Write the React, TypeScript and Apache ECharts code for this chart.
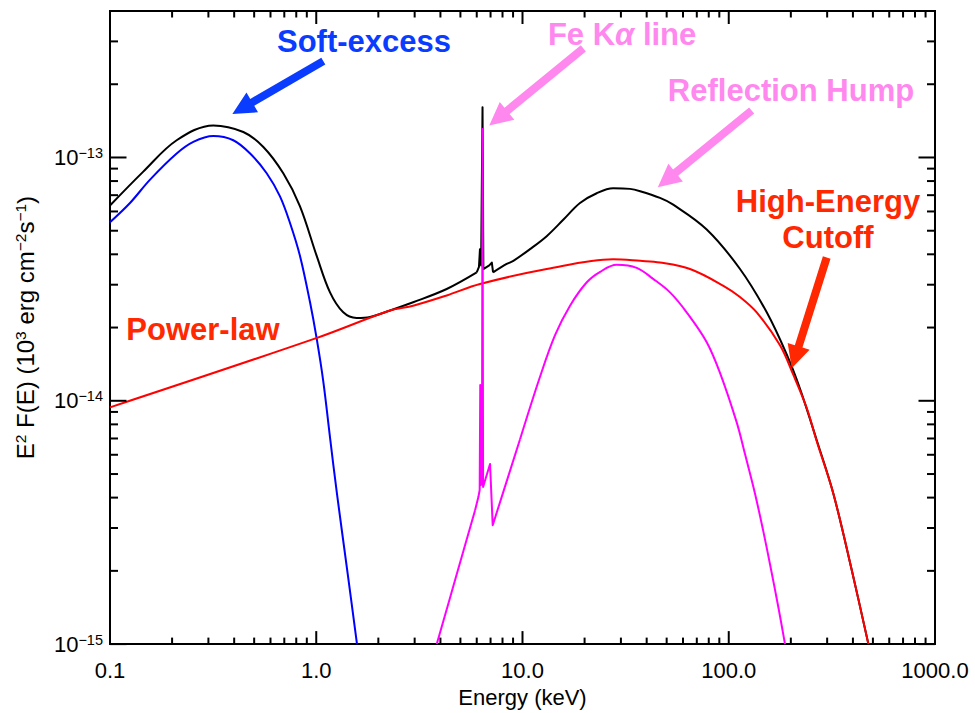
import React, { useEffect, useRef } from "react";
import * as echarts from "echarts";

// ---- axis ticks / labels ----
const xMajorTicks = [0.1, 1, 10, 100, 1000];
const xTickLabels = ["0.1", "1.0", "10.0", "100.0", "1000.0"];
const xMinorTicks = [
  0.2, 0.3, 0.4, 0.5, 0.6, 0.7, 0.8, 0.9,
  2, 3, 4, 5, 6, 7, 8, 9,
  20, 30, 40, 50, 60, 70, 80, 90,
  200, 300, 400, 500, 600, 700, 800, 900,
];
const yMajorTicks = [1e-15, 1e-14, 1e-13];
const yTickExponents = ["−15", "−14", "−13"];
const yMinorTicks = [
  2e-15, 3e-15, 4e-15, 5e-15, 6e-15, 7e-15, 8e-15, 9e-15,
  2e-14, 3e-14, 4e-14, 5e-14, 6e-14, 7e-14, 8e-14, 9e-14,
  2e-13, 3e-13,
];

// ---- series: [Energy keV, E^2 F(E)] ----
const totalModel: [number, number][] = [
  [0.1, 6.35e-14], [0.145, 8.75e-14], [0.2105, 1.177e-13], [0.317, 1.355e-13],
  [0.443, 1.273e-13], [0.554, 1.105e-13], [0.692, 8.61e-14], [0.834, 6.3e-14],
  [1.005, 3.94e-14], [1.166, 2.79e-14], [1.352, 2.31e-14], [1.57, 2.19e-14],
  [1.822, 2.21e-14], [2.28, 2.35e-14], [2.95, 2.54e-14], [4.29, 2.88e-14],
  [6.0, 3.37e-14], [6.15, 3.55e-14], [6.22, 4.2e-14], [6.3, 3.6e-14],
  [6.4, 1.609e-13], [6.46, 3.48e-14], [6.9, 3.6e-14], [7.1, 3.7e-14],
  [7.2, 3.37e-14], [8.38, 3.65e-14], [9.03, 3.76e-14], [10.87, 4.2e-14],
  [13.1, 4.75e-14], [15.8, 5.56e-14], [19.0, 6.5e-14], [22.9, 7.13e-14],
  [27.5, 7.47e-14], [33.2, 7.43e-14], [37.2, 7.27e-14], [46.4, 6.82e-14],
  [53.8, 6.4e-14], [78.2, 5.06e-14], [113.4, 3.48e-14], [152.8, 2.31e-14],
  [191, 1.55e-14], [221.6, 1.12e-14], [266.8, 6.9e-15], [321.6, 4.15e-15],
  [394.5, 2.02e-15], [475.5, 1.0e-15],
];
const softExcess: [number, number][] = [
  [0.1, 5.42e-14], [0.125, 6.5e-14], [0.156, 8.09e-14], [0.2105, 1.038e-13],
  [0.2535, 1.159e-13], [0.317, 1.225e-13], [0.396, 1.177e-13], [0.478, 1.038e-13],
  [0.575, 8.61e-14], [0.667, 6.92e-14], [0.746, 5.38e-14], [0.834, 3.94e-14],
  [0.933, 2.54e-14], [1.005, 1.8e-14], [1.082, 1.2e-14], [1.166, 7.08e-15],
  [1.26, 4.15e-15], [1.426, 1.9e-15], [1.576, 1.0e-15],
];
const powerLaw: [number, number][] = [
  [0.1, 9.4e-15], [1.0, 1.81e-14], [2.28, 2.35e-14], [2.95, 2.46e-14],
  [4.29, 2.71e-14], [6.22, 3.02e-14], [13.1, 3.48e-14], [27.5, 3.82e-14],
  [37.2, 3.76e-14], [46.4, 3.7e-14], [64.9, 3.48e-14], [94.2, 2.97e-14],
  [113.4, 2.67e-14], [136.6, 2.31e-14], [177.2, 1.69e-14], [205.5, 1.28e-14],
  [238.7, 9.35e-15], [266.8, 6.84e-15], [321.6, 4.15e-15], [394.5, 2.02e-15],
  [475.5, 1.0e-15],
];
const reflection: [number, number][] = [
  [3.84, 1.0e-15], [4.76, 1.89e-15], [5.89, 3.55e-15], [6.11, 4.02e-15],
  [6.2, 4.3e-15], [6.24, 1.16e-14], [6.28, 4.5e-15], [6.36, 4.6e-15],
  [6.4, 1.31e-13], [6.44, 4.42e-15], [6.96, 5.5e-15], [7.17, 3.08e-15],
  [9.73, 6.95e-15], [12.16, 1.255e-14], [14.38, 1.86e-14], [17.0, 2.46e-14],
  [20.5, 3.07e-14], [23.8, 3.39e-14], [28.6, 3.62e-14], [35.8, 3.52e-14],
  [43.0, 3.17e-14], [51.9, 2.79e-14], [62.5, 2.31e-14], [78.2, 1.742e-14],
  [90.7, 1.303e-14], [109.3, 8.15e-15], [119.9, 6.04e-15], [134.1, 4.15e-15],
  [147.2, 2.9e-15], [158.5, 2.13e-15], [173.9, 1.42e-15], [187.4, 1.0e-15],
];

// Energy range of the narrow Fe line / edge features (drawn without smoothing)
const LINE_REGION = [6.1, 7.2];

// ---- annotations (data coordinates) ----
const COL_BLUE_TXT = "#0a3cff";
const COL_PINK_TXT = "#ff88ee";
const COL_RED_TXT = "#ff2800";
const annotationTexts = [
  { text: "Soft-excess", at: [1.704, 2.99e-13], color: COL_BLUE_TXT },
  { text: "{n|Fe K}{a|α}{n| line}", at: [30.4, 3.19e-13], color: COL_PINK_TXT, rich: true },
  { text: "Reflection Hump", at: [200.4, 1.887e-13], color: COL_PINK_TXT },
  { text: "High-Energy", at: [302.8, 6.6e-14], color: COL_RED_TXT },
  { text: "Cutoff", at: [302.8, 4.71e-14], color: COL_RED_TXT },
  { text: "Power-law", at: [0.2825, 1.968e-14], color: COL_RED_TXT },
];
const arrows = [
  { from: [1.082, 2.49e-13], to: [0.392, 1.51e-13], color: COL_BLUE_TXT },
  { from: [19.72, 2.81e-13], to: [6.9, 1.355e-13], color: COL_PINK_TXT },
  { from: [129.1, 1.56e-13], to: [45.3, 7.55e-14], color: COL_PINK_TXT },
  { from: [298.5, 3.88e-14], to: [202, 1.36e-14], color: COL_RED_TXT },
];

const FONT = "'Liberation Sans', Arial, Helvetica, sans-serif";

export default function App() {
  const ref = useRef<HTMLDivElement>(null);

  useEffect(() => {
    document.body.style.margin = "0";
    document.body.style.overflow = "hidden";
    const chart = echarts.init(ref.current!, undefined, { renderer: "svg" });

    const tickData = [
      ...xMajorTicks.map((v) => [v, 1e-15, 0]),
      ...xMinorTicks.map((v) => [v, 1e-15, 1]),
      ...yMajorTicks.map((v) => [0.1, v, 2]),
      ...yMinorTicks.map((v) => [0.1, v, 3]),
    ];

    const lineSeries = (data: [number, number][], color: string, z: number, smooth: number | boolean) => ({
      type: "line",
      data,
      showSymbol: false,
      symbol: "none",
      smooth,
      lineStyle: { color, width: 2, join: "round" },
      z,
      animation: false,
    });

    // split a curve into smooth continuum parts and the sharp line region
    const segmented = (data: [number, number][], color: string, z: number) => {
      const lo = data.filter((d) => d[0] <= LINE_REGION[0]);
      const mid = data.filter((d) => d[0] >= LINE_REGION[0] && d[0] <= LINE_REGION[1]);
      const hi = data.filter((d) => d[0] >= LINE_REGION[1]);
      const midFull = [lo[lo.length - 1], ...mid, hi[0]].filter(Boolean) as [number, number][];
      return [
        lineSeries(lo, color, z, 0.35),
        lineSeries(midFull, color, z, false),
        lineSeries(hi, color, z, 0.35),
      ];
    };

    const option: any = {
      animation: false,
      textStyle: { fontFamily: FONT },
      grid: {
        left: 110, right: 40, top: 11, bottom: 61.3,
        show: true, borderColor: "#000", borderWidth: 2, backgroundColor: "transparent",
      },
      xAxis: {
        type: "log", logBase: 10, min: 0.1, max: 1000,
        axisLine: { show: true, lineStyle: { color: "#000", width: 2 } },
        axisTick: { show: false },
        splitLine: { show: false },
        axisLabel: {
          color: "#000", fontSize: 22, margin: 15, fontFamily: FONT,
          formatter: (v: number) => {
            const e = Math.round(Math.log10(v));
            if (Math.abs(Math.log10(v) - e) > 1e-6) return "";
            return xTickLabels[e + 1] ?? "";
          },
        },
        name: "Energy (keV)",
        nameLocation: "middle",
        nameGap: 40,
        nameTextStyle: { color: "#000", fontSize: 22, fontFamily: FONT },
      },
      yAxis: {
        type: "log", logBase: 10, min: 1e-15, max: 4e-13,
        axisLine: { show: true, lineStyle: { color: "#000", width: 2 } },
        axisTick: { show: false },
        splitLine: { show: false },
        axisLabel: {
          color: "#000", margin: 7, fontFamily: FONT,
          formatter: (v: number) => {
            const e = Math.round(Math.log10(v));
            if (Math.abs(Math.log10(v) - e) > 1e-6) return "";
            const idx = e + 15;
            if (idx < 0 || idx >= yTickExponents.length) return "";
            return `{b|10}{s|${yTickExponents[idx]}}`;
          },
          rich: {
            b: { fontSize: 22, lineHeight: 24, color: "#000", fontFamily: FONT },
            s: { fontSize: 14.5, lineHeight: 7, verticalAlign: "top", color: "#000", fontFamily: FONT },
          },
        },
        name: "{t|E}{u|2}{t| F(E) (10}{u|3}{t| erg cm}{u|−2}{t|s}{u|−1}{t|)}",
        nameLocation: "middle",
        nameGap: 72,
        nameRotate: 90,
        nameTextStyle: {
          color: "#000", fontFamily: FONT,
          rich: {
            t: { fontSize: 24, lineHeight: 26, color: "#000", fontFamily: FONT },
            u: { fontSize: 15.5, lineHeight: 8, verticalAlign: "top", color: "#000", fontFamily: FONT },
          },
        },
      },
      series: [
        ...segmented(totalModel, "#000000", 2),
        lineSeries(softExcess, "#0000ff", 3, 0.35),
        lineSeries(powerLaw, "#ff0000", 4, 0.35),
        ...segmented(reflection, "#ff00ff", 5),
        {
          type: "custom",
          data: tickData,
          encode: { x: 0, y: 1 },
          z: 10,
          silent: true,
          clip: false,
          renderItem: (params: any, api: any) => {
            const cs = params.coordSys;
            const kind = api.value(2);
            const p = api.coord([api.value(0), api.value(1)]);
            const style = { stroke: "#000", lineWidth: 2 };
            if (kind < 2) {
              const len = kind === 0 ? 13 : 6.5;
              const x = p[0];
              const yb = cs.y + cs.height;
              return {
                type: "group",
                children: [
                  { type: "line", shape: { x1: x, y1: yb, x2: x, y2: yb - len }, style },
                  { type: "line", shape: { x1: x, y1: cs.y, x2: x, y2: cs.y + len }, style },
                ],
              };
            }
            const len = kind === 2 ? 16.5 : 8;
            const y = p[1];
            const xr = cs.x + cs.width;
            return {
              type: "group",
              children: [
                { type: "line", shape: { x1: cs.x, y1: y, x2: cs.x + len, y2: y }, style },
                { type: "line", shape: { x1: xr, y1: y, x2: xr - len, y2: y }, style },
              ],
            };
          },
        },
      ],
    };

    chart.setOption(option);

    const toPx = (p: number[]) => chart.convertToPixel({ gridIndex: 0 }, p) as number[];
    const graphics: any[] = [];
    arrows.forEach((a) => {
      const T = toPx(a.from);
      const P = toPx(a.to);
      const dx = P[0] - T[0];
      const dy = P[1] - T[1];
      const L = Math.hypot(dx, dy);
      const d = [dx / L, dy / L];
      const n = [-d[1], d[0]];
      const headLen = 23;
      const w = 4;
      const h = 11.5;
      const B = [P[0] - d[0] * headLen, P[1] - d[1] * headLen];
      const pts = [
        [T[0] + n[0] * w, T[1] + n[1] * w],
        [B[0] + n[0] * w, B[1] + n[1] * w],
        [B[0] + n[0] * h, B[1] + n[1] * h],
        [P[0], P[1]],
        [B[0] - n[0] * h, B[1] - n[1] * h],
        [B[0] - n[0] * w, B[1] - n[1] * w],
        [T[0] - n[0] * w, T[1] - n[1] * w],
      ];
      graphics.push({
        type: "polygon",
        shape: { points: pts },
        style: { fill: a.color, stroke: "none" },
        z: 20,
        silent: true,
      });
    });
    annotationTexts.forEach((t) => {
      const p = toPx(t.at);
      const style: any = {
        text: t.text,
        x: p[0],
        y: p[1],
        fill: t.color,
        fontSize: 31,
        fontWeight: "bold",
        fontFamily: FONT,
        align: "center",
        verticalAlign: "middle",
        textAlign: "center",
        textVerticalAlign: "middle",
      };
      if (t.rich) {
        style.rich = {
          n: { fontSize: 31, fontWeight: "bold", fontFamily: FONT, fill: t.color, color: t.color },
          a: { fontSize: 31, fontWeight: "bold", fontStyle: "italic", fontFamily: FONT, fill: t.color, color: t.color },
        };
      }
      graphics.push({ type: "text", style, z: 21, silent: true });
    });
    chart.setOption({ graphic: graphics });

    return () => chart.dispose();
  }, []);

  return <div ref={ref} style={{ width: 975, height: 713 }} />;
}
